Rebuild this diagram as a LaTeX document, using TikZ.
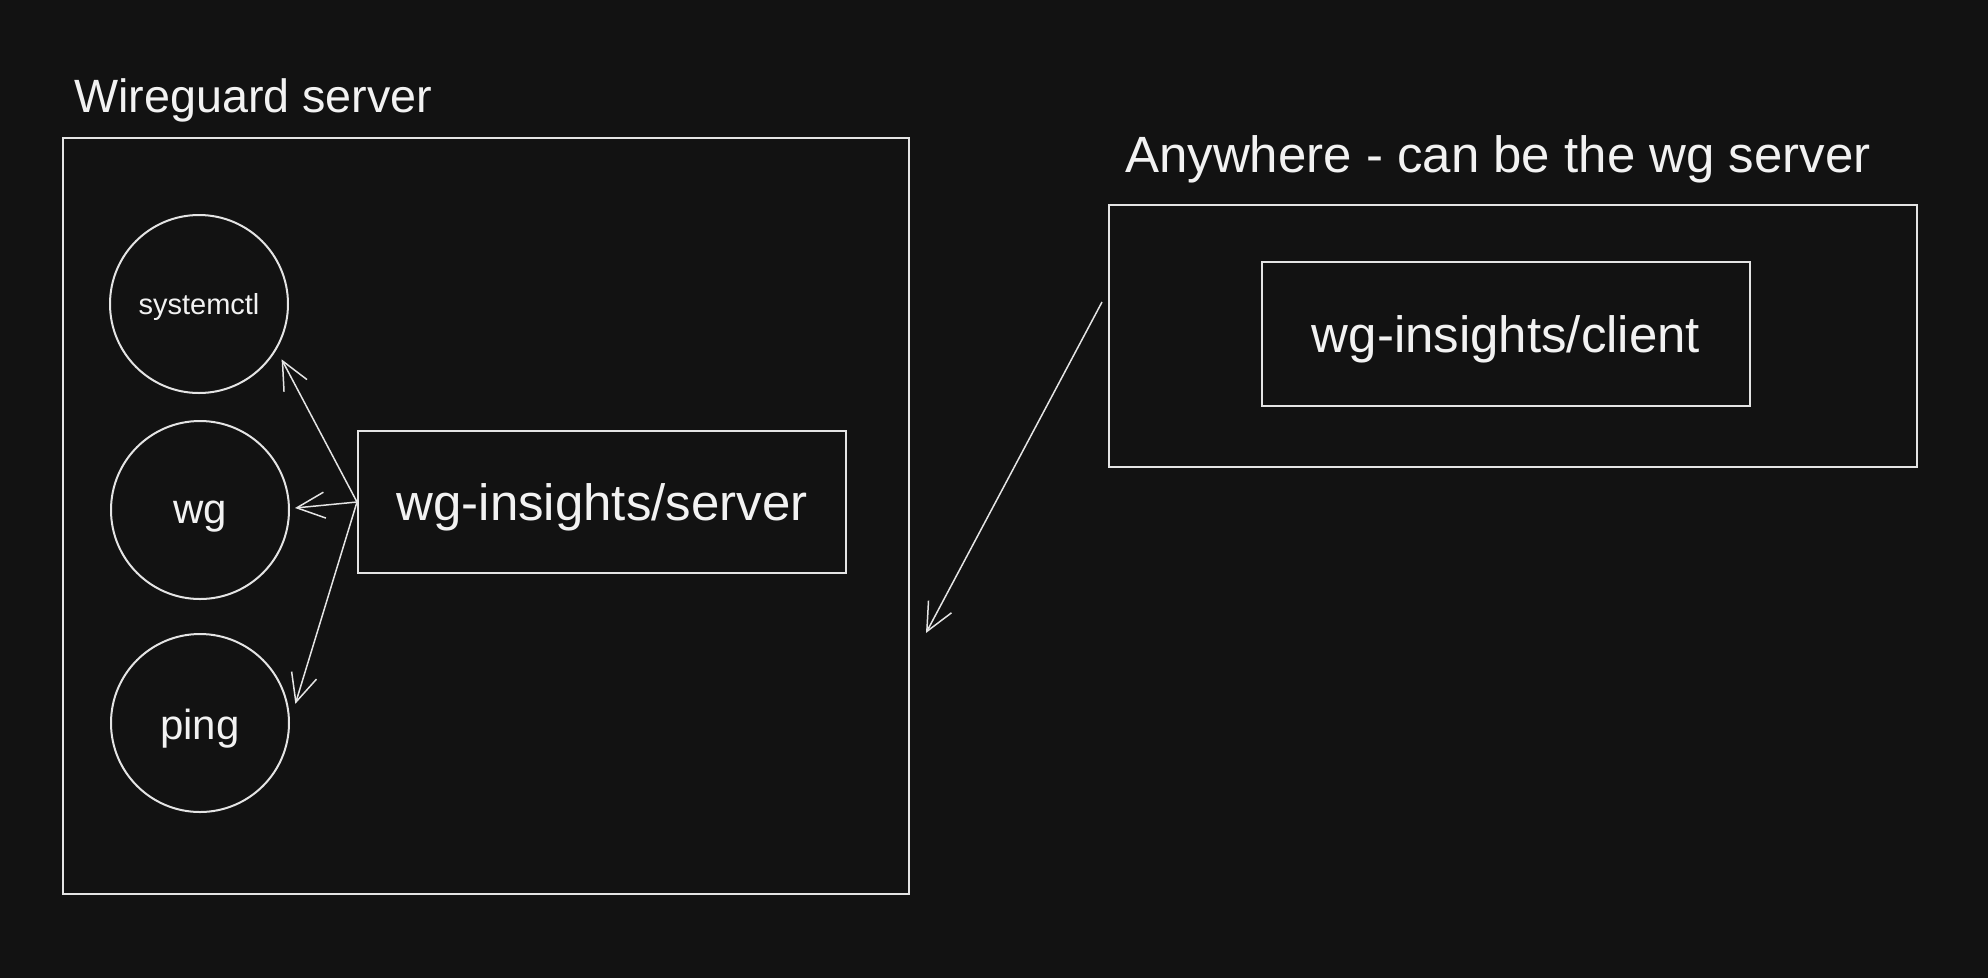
\documentclass[tikz,border=0pt]{standalone}
\usepackage{fontspec}
\setmainfont{Liberation Sans}
\usetikzlibrary{arrows.meta,calc}
\definecolor{bg}{HTML}{121212}
\definecolor{ink}{HTML}{E4E4E4}
\definecolor{txtc}{HTML}{F2F2F2}
\begin{document}
\begin{tikzpicture}[x=1pt,y=-1pt,
  line/.style={draw=ink, line width=2pt},
  txt/.style={text=txtc, inner sep=0pt},
  arr/.style={draw=ink, line width=1.5pt, -{Straight Barb[length=28pt,width=26pt,line width=1.5pt]}},
  ball/.style={line, circle, minimum size=178pt, inner sep=0pt},
  boxx/.style={line, rectangle, inner sep=0pt, text=txtc}]
\fill[bg] (0,0) rectangle (1988,978);
\useasboundingbox (0,0) rectangle (1988,978);
% left container
\node[boxx, minimum width=846pt, minimum height=756pt, anchor=north west] (big) at (62,137) {};
\node[txt, anchor=base west, font=\fontsize{46.7}{50}\selectfont] (biglbl) at (74,112) {Wireguard server};
% circles
\node[ball] (sys) at (199,304) {};
\node[ball] (wg) at (200,510) {};
\node[ball] (ping) at (200,723) {};
\node[txt, anchor=base, font=\fontsize{29}{32}\selectfont] (sysT) at (199,314) {systemctl};
\node[txt, anchor=base, font=\fontsize{42}{46}\selectfont] (wgT) at (200,523) {wg};
\node[txt, anchor=base, font=\fontsize{42}{46}\selectfont] (pingT) at (200,739) {ping};
% server box
\node[boxx, minimum width=488pt, minimum height=142pt, text depth=0pt, font=\fontsize{51}{55}\selectfont] (srv) at (602,502) {wg-insights/server};
% right container
\node[boxx, minimum width=808pt, minimum height=262pt] (any) at (1513,336) {};
\node[boxx, minimum width=488pt, minimum height=144pt, text depth=0pt, font=\fontsize{51}{55}\selectfont] (cli) at (1506,334) {wg-insights/client};
\node[txt, anchor=base west, font=\fontsize{51}{55}\selectfont] (anylbl) at (1125,172) {Anywhere - can be the wg server};
% arrows
\draw[arr] (srv.west) -- ([shift={(8,5)}]sys.-34);
\draw[arr] (srv.west) -- ([shift={(5,-2)}]wg.east);
\draw[arr] (srv.west) -- ([shift={(7,-2)}]ping.11);
\draw[arr] ([shift={(-6,-34)}]any.west) -- ([shift={(16,117)}]big.east);
\end{tikzpicture}
\end{document}
